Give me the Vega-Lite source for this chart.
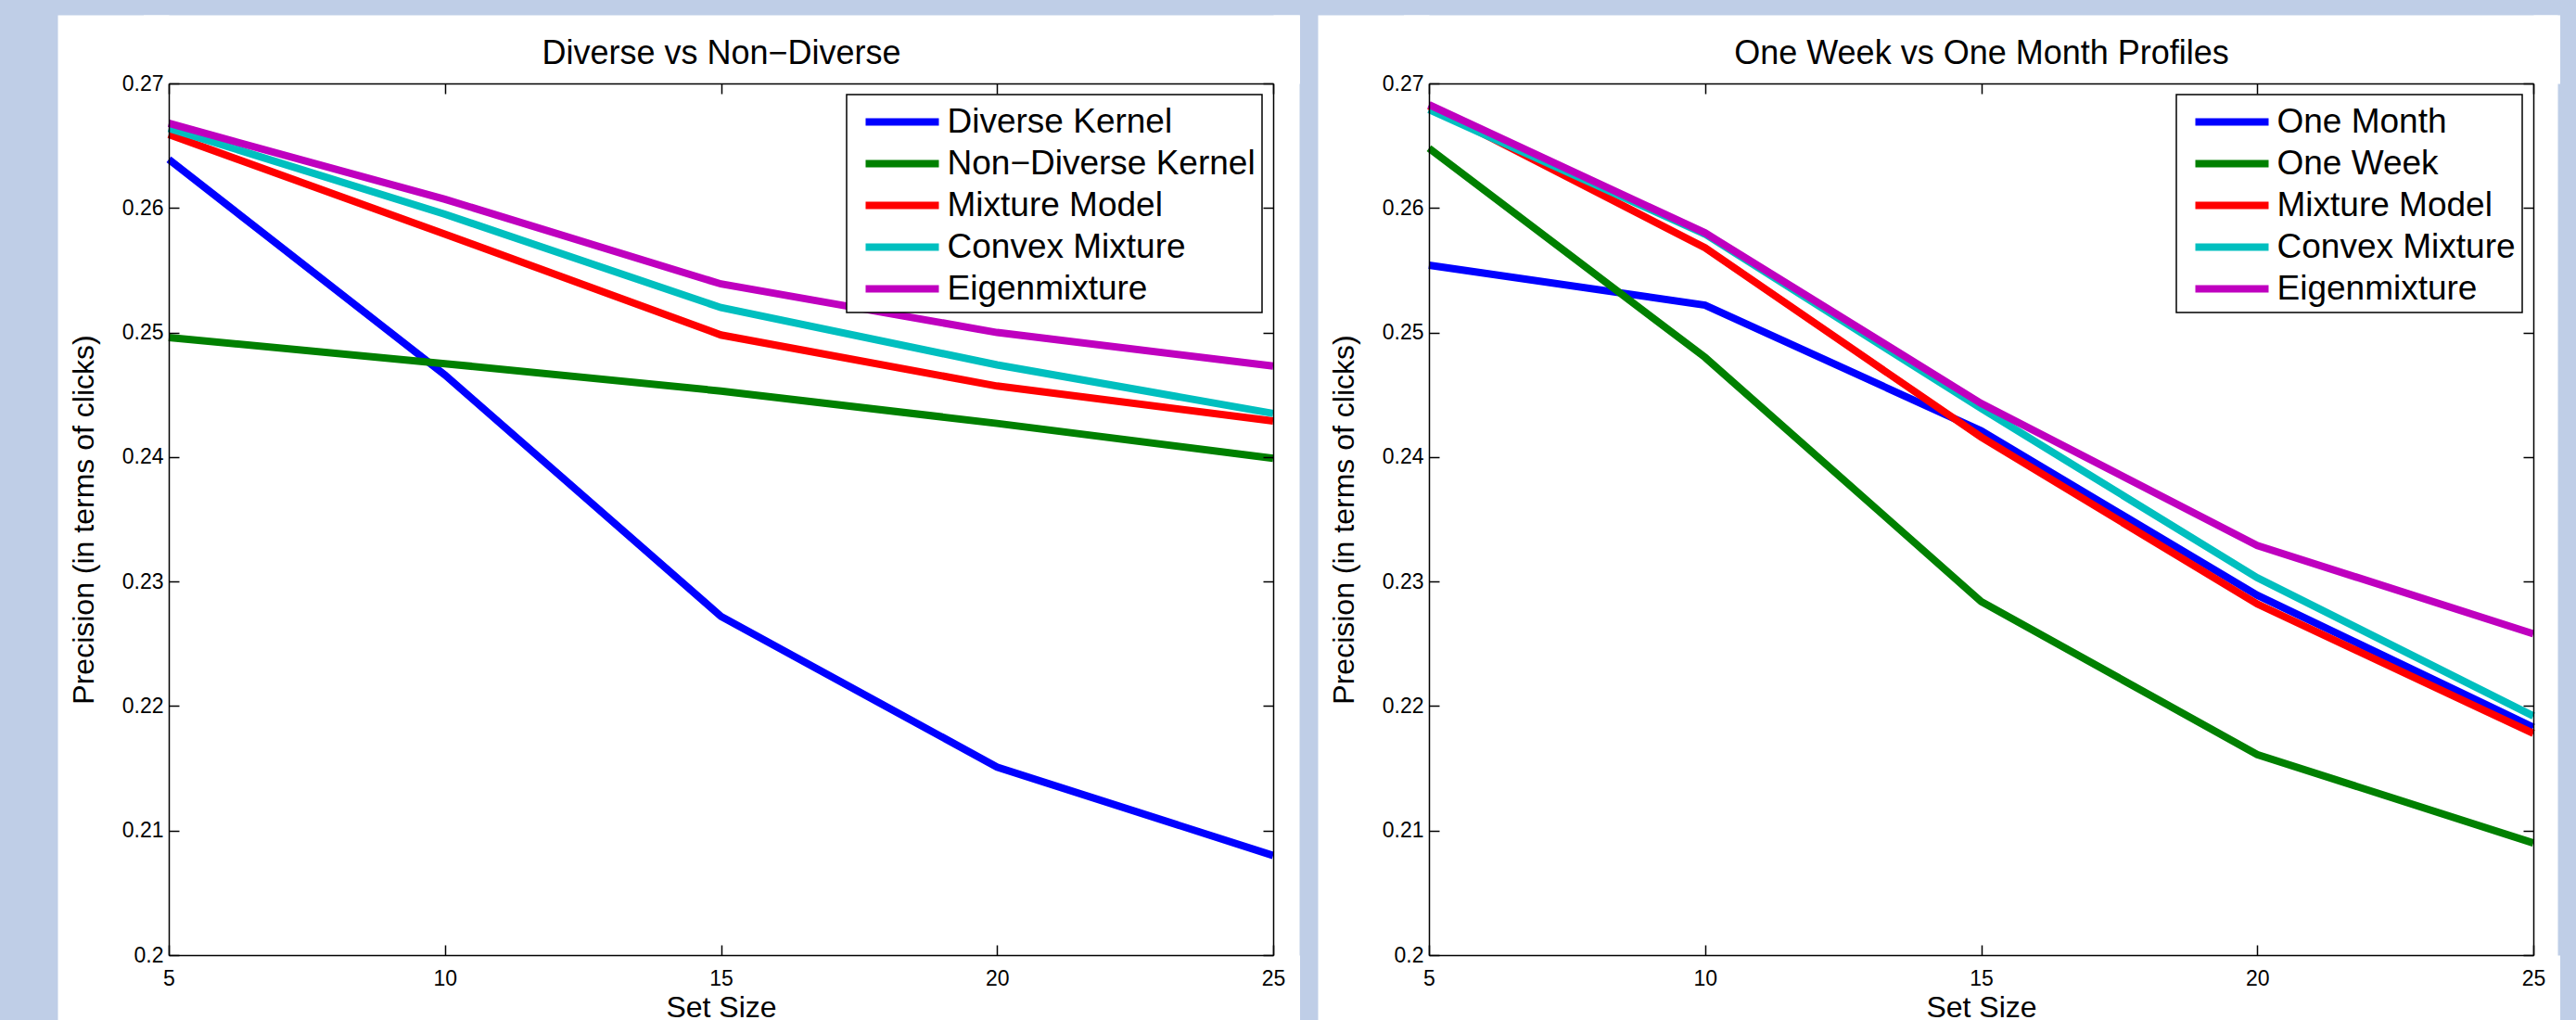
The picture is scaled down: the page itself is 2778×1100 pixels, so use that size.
{
  "$schema": "https://vega.github.io/schema/vega-lite/v6.json",
  "autosize": {"type": "none"},
  "padding": {"left": 182, "top": 90, "right": 2596, "bottom": 1010},
  "background": "#bfcee7",
  "bounds": "flush",
  "spacing": 168,
  "datasets": {
    "left": [
      {"size": 5, "series": "Diverse Kernel", "precision": 0.2639},
      {"size": 10, "series": "Diverse Kernel", "precision": 0.2466},
      {"size": 15, "series": "Diverse Kernel", "precision": 0.2272},
      {"size": 20, "series": "Diverse Kernel", "precision": 0.2151},
      {"size": 25, "series": "Diverse Kernel", "precision": 0.2080},
      {"size": 5, "series": "Non−Diverse Kernel", "precision": 0.2496},
      {"size": 10, "series": "Non−Diverse Kernel", "precision": 0.2475},
      {"size": 15, "series": "Non−Diverse Kernel", "precision": 0.2453},
      {"size": 20, "series": "Non−Diverse Kernel", "precision": 0.2427},
      {"size": 25, "series": "Non−Diverse Kernel", "precision": 0.2399},
      {"size": 5, "series": "Mixture Model", "precision": 0.2659},
      {"size": 10, "series": "Mixture Model", "precision": 0.2579},
      {"size": 15, "series": "Mixture Model", "precision": 0.2498},
      {"size": 20, "series": "Mixture Model", "precision": 0.2457},
      {"size": 25, "series": "Mixture Model", "precision": 0.2429},
      {"size": 5, "series": "Convex Mixture", "precision": 0.2664},
      {"size": 10, "series": "Convex Mixture", "precision": 0.2595},
      {"size": 15, "series": "Convex Mixture", "precision": 0.2520},
      {"size": 20, "series": "Convex Mixture", "precision": 0.2474},
      {"size": 25, "series": "Convex Mixture", "precision": 0.2435},
      {"size": 5, "series": "Eigenmixture", "precision": 0.2668},
      {"size": 10, "series": "Eigenmixture", "precision": 0.2607},
      {"size": 15, "series": "Eigenmixture", "precision": 0.2539},
      {"size": 20, "series": "Eigenmixture", "precision": 0.2500},
      {"size": 25, "series": "Eigenmixture", "precision": 0.2473}
    ],
    "right": [
      {"size": 5, "series": "One Month", "precision": 0.2554},
      {"size": 10, "series": "One Month", "precision": 0.2522},
      {"size": 15, "series": "One Month", "precision": 0.2421},
      {"size": 20, "series": "One Month", "precision": 0.2289},
      {"size": 25, "series": "One Month", "precision": 0.2183},
      {"size": 5, "series": "One Week", "precision": 0.2648},
      {"size": 10, "series": "One Week", "precision": 0.2480},
      {"size": 15, "series": "One Week", "precision": 0.2284},
      {"size": 20, "series": "One Week", "precision": 0.2161},
      {"size": 25, "series": "One Week", "precision": 0.2090},
      {"size": 5, "series": "Mixture Model", "precision": 0.2682},
      {"size": 10, "series": "Mixture Model", "precision": 0.2568},
      {"size": 15, "series": "Mixture Model", "precision": 0.2416},
      {"size": 20, "series": "Mixture Model", "precision": 0.2282},
      {"size": 25, "series": "Mixture Model", "precision": 0.2178},
      {"size": 5, "series": "Convex Mixture", "precision": 0.2679},
      {"size": 10, "series": "Convex Mixture", "precision": 0.2579},
      {"size": 15, "series": "Convex Mixture", "precision": 0.2439},
      {"size": 20, "series": "Convex Mixture", "precision": 0.2303},
      {"size": 25, "series": "Convex Mixture", "precision": 0.2192},
      {"size": 5, "series": "Eigenmixture", "precision": 0.2683},
      {"size": 10, "series": "Eigenmixture", "precision": 0.2580},
      {"size": 15, "series": "Eigenmixture", "precision": 0.2443},
      {"size": 20, "series": "Eigenmixture", "precision": 0.2329},
      {"size": 25, "series": "Eigenmixture", "precision": 0.2258}
    ]
  },
  "hconcat": [
    {
      "width": 1191,
      "height": 940,
      "data": {"name": "left"},
      "layer": [
        {
          "mark": {"type": "line", "opacity": 0},
          "encoding": {
            "x": {"field": "size", "type": "quantitative", "scale": {"domain": [5, 25], "nice": false, "zero": false},
                  "axis": {"orient": "top", "values": [15], "tickSize": 74, "tickWidth": 1247, "tickColor": "white", "labels": false, "domain": false, "grid": false, "title": null, "zindex": 0}},
            "y": {"field": "precision", "type": "quantitative", "scale": {"domain": [0.2, 0.27], "nice": false, "zero": false},
                  "axis": {"orient": "left", "values": [0.235], "tickSize": 120, "tickWidth": 1088, "tickColor": "white", "labels": false, "domain": false, "grid": false, "title": null, "zindex": 0}},
            "detail": {"field": "series"}
          }
        },
        {
          "mark": {"type": "line", "opacity": 0},
          "encoding": {
            "x": {"field": "size", "type": "quantitative", "scale": {"domain": [5, 25], "nice": false, "zero": false},
                  "axis": {"orient": "bottom", "values": [15], "tickSize": 90, "tickWidth": 1247, "tickColor": "white", "labels": false, "domain": false, "grid": false, "title": null, "zindex": 0}},
            "y": {"field": "precision", "type": "quantitative", "scale": {"domain": [0.2, 0.27], "nice": false, "zero": false},
                  "axis": {"orient": "right", "values": [0.235], "tickSize": 28, "tickWidth": 1088, "tickColor": "white", "labels": false, "domain": false, "grid": false, "title": null, "zindex": 0}},
            "detail": {"field": "series"}
          }
        },
        {
          "mark": {"type": "line", "opacity": 0},
          "encoding": {
            "x": {"field": "size", "type": "quantitative", "scale": {"domain": [5, 25], "nice": false, "zero": false},
                  "axis": {"orient": "top", "values": [5, 10, 15, 20, 25], "tickSize": -11, "labels": false, "title": "Diverse vs Non−Diverse", "titleFontSize": 36, "titlePadding": 22, "titleBaseline": "alphabetic", "minExtent": 0, "maxExtent": 0, "zindex": 1}},
            "y": {"field": "precision", "type": "quantitative", "scale": {"domain": [0.2, 0.27], "nice": false, "zero": false},
                  "axis": {"orient": "right", "values": [0.2, 0.21, 0.22, 0.23, 0.24, 0.25, 0.26, 0.27], "tickSize": -11, "labels": false, "title": null, "zindex": 1}},
            "detail": {"field": "series"}
          }
        },
        {
          "mark": {"type": "line", "strokeWidth": 8},
          "encoding": {
            "x": {"field": "size", "type": "quantitative", "scale": {"domain": [5, 25], "nice": false, "zero": false},
                  "axis": {"orient": "bottom", "values": [5, 10, 15, 20, 25], "tickSize": -11, "labelPadding": 25, "title": "Set Size", "titlePadding": 4, "zindex": 1}},
            "y": {"field": "precision", "type": "quantitative", "scale": {"domain": [0.2, 0.27], "nice": false, "zero": false},
                  "axis": {"orient": "left", "values": [0.2, 0.21, 0.22, 0.23, 0.24, 0.25, 0.26, 0.27], "format": ".2~f", "tickSize": -11, "labelPadding": 17, "title": "Precision (in terms of clicks)", "titlePadding": 24, "zindex": 1}},
            "color": {"field": "series", "type": "nominal",
                      "scale": {"domain": ["Diverse Kernel", "Non−Diverse Kernel", "Mixture Model", "Convex Mixture", "Eigenmixture"],
                                "range": ["#0000ff", "#008000", "#ff0000", "#00bfbf", "#bf00bf"]},
                      "legend": {"title": null}}
          }
        }
      ],
      "resolve": {"axis": {"x": "independent", "y": "independent"}}
    },
    {
      "width": 1191,
      "height": 940,
      "data": {"name": "right"},
      "layer": [
        {
          "mark": {"type": "line", "opacity": 0},
          "encoding": {
            "x": {"field": "size", "type": "quantitative", "scale": {"domain": [5, 25], "nice": false, "zero": false},
                  "axis": {"orient": "top", "values": [15], "tickSize": 74, "tickWidth": 1247, "tickColor": "white", "labels": false, "domain": false, "grid": false, "title": null, "zindex": 0}},
            "y": {"field": "precision", "type": "quantitative", "scale": {"domain": [0.2, 0.27], "nice": false, "zero": false},
                  "axis": {"orient": "left", "values": [0.235], "tickSize": 120, "tickWidth": 1088, "tickColor": "white", "labels": false, "domain": false, "grid": false, "title": null, "zindex": 0}},
            "detail": {"field": "series"}
          }
        },
        {
          "mark": {"type": "line", "opacity": 0},
          "encoding": {
            "x": {"field": "size", "type": "quantitative", "scale": {"domain": [5, 25], "nice": false, "zero": false},
                  "axis": {"orient": "bottom", "values": [15], "tickSize": 90, "tickWidth": 1247, "tickColor": "white", "labels": false, "domain": false, "grid": false, "title": null, "zindex": 0}},
            "y": {"field": "precision", "type": "quantitative", "scale": {"domain": [0.2, 0.27], "nice": false, "zero": false},
                  "axis": {"orient": "right", "values": [0.235], "tickSize": 26, "tickWidth": 1088, "tickColor": "white", "labels": false, "domain": false, "grid": false, "title": null, "zindex": 0}},
            "detail": {"field": "series"}
          }
        },
        {
          "mark": {"type": "line", "opacity": 0},
          "encoding": {
            "x": {"field": "size", "type": "quantitative", "scale": {"domain": [5, 25], "nice": false, "zero": false},
                  "axis": {"orient": "top", "values": [5, 10, 15, 20, 25], "tickSize": -11, "labels": false, "title": "One Week vs One Month Profiles", "titleFontSize": 36, "titlePadding": 22, "titleBaseline": "alphabetic", "minExtent": 0, "maxExtent": 0, "zindex": 1}},
            "y": {"field": "precision", "type": "quantitative", "scale": {"domain": [0.2, 0.27], "nice": false, "zero": false},
                  "axis": {"orient": "right", "values": [0.2, 0.21, 0.22, 0.23, 0.24, 0.25, 0.26, 0.27], "tickSize": -11, "labels": false, "title": null, "zindex": 1}},
            "detail": {"field": "series"}
          }
        },
        {
          "mark": {"type": "line", "strokeWidth": 8},
          "encoding": {
            "x": {"field": "size", "type": "quantitative", "scale": {"domain": [5, 25], "nice": false, "zero": false},
                  "axis": {"orient": "bottom", "values": [5, 10, 15, 20, 25], "tickSize": -11, "labelPadding": 25, "title": "Set Size", "titlePadding": 4, "zindex": 1}},
            "y": {"field": "precision", "type": "quantitative", "scale": {"domain": [0.2, 0.27], "nice": false, "zero": false},
                  "axis": {"orient": "left", "values": [0.2, 0.21, 0.22, 0.23, 0.24, 0.25, 0.26, 0.27], "format": ".2~f", "tickSize": -11, "labelPadding": 17, "title": "Precision (in terms of clicks)", "titlePadding": 24, "zindex": 1}},
            "color": {"field": "series", "type": "nominal",
                      "scale": {"domain": ["One Month", "One Week", "Mixture Model", "Convex Mixture", "Eigenmixture"],
                                "range": ["#0000ff", "#008000", "#ff0000", "#00bfbf", "#bf00bf"]},
                      "legend": {"title": null}}
          }
        }
      ],
      "resolve": {"axis": {"x": "independent", "y": "independent"}}
    }
  ],
  "resolve": {"scale": {"color": "independent"}, "legend": {"color": "independent"}},
  "config": {
    "font": "Liberation Sans",
    "view": {"stroke": null, "fill": "white"},
    "axis": {
      "labelFont": "Liberation Sans", "titleFont": "Liberation Sans",
      "labelFontSize": 23, "titleFontSize": 32, "titleFontWeight": "normal",
      "labelColor": "black", "titleColor": "black",
      "tickColor": "black", "tickWidth": 1.5, "domainColor": "black", "domainWidth": 1.5,
      "grid": false, "labelFlush": false, "labelOverlap": false, "labelBound": false
    },
    "legend": {
      "orient": "top-right", "offset": 12, "padding": 7, "rowPadding": 4,
      "strokeColor": "black", "strokeWidth": 1.5, "fillColor": "white", "cornerRadius": 0,
      "labelFont": "Liberation Sans", "labelFontSize": 37, "labelColor": "black", "labelLimit": 0,
      "symbolType": "M-2.135,0L2.135,0", "symbolSize": 1369, "symbolStrokeWidth": 8,
      "symbolOffset": 30.5, "labelOffset": 26
    }
  }
}
